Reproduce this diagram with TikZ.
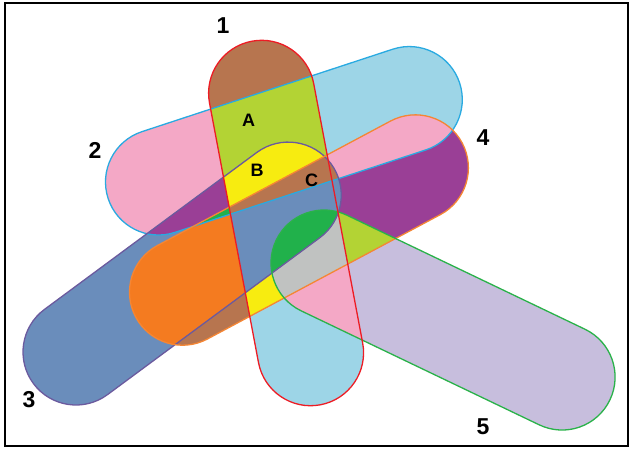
\documentclass[tikz,border=0pt]{standalone}
\usepackage{fontspec}
\setmainfont{Liberation Sans}
\usepackage{tikz}
\definecolor{VBrown}{HTML}{B7754F}
\definecolor{VLime}{HTML}{B3D334}
\definecolor{VSky}{HTML}{9DD5E7}
\definecolor{VPink}{HTML}{F4A8C6}
\definecolor{VYellow}{HTML}{F7EC10}
\definecolor{VPurple}{HTML}{9A3F96}
\definecolor{VSteel}{HTML}{6A8DBB}
\definecolor{VOrange}{HTML}{F47B20}
\definecolor{VGreen}{HTML}{21B14B}
\definecolor{VGrey}{HTML}{C0C2C1}
\definecolor{VLavender}{HTML}{C7BEDD}
\definecolor{ERed}{HTML}{ED1C24}
\definecolor{ECyan}{HTML}{29AAE1}
\definecolor{EPurple}{HTML}{6B5A9E}
\definecolor{EOrange}{HTML}{F58634}
\definecolor{EGreen}{HTML}{2AB24A}
\newcommand{\stadpath}{(0,-53) -- (264,-53) arc[start angle=-90,end angle=90,radius=53] -- (0,53) arc[start angle=90,end angle=270,radius=53] -- cycle}
\newcommand{\lefthalf}{(-20,-20) -- (240.2,-20) -- (332.7,470) -- (-20,470) -- cycle}
\newcommand{\righthalf}{(240.2,-20) -- (660,-20) -- (660,470) -- (332.7,470) -- cycle}
\newcommand{\within}[1]{\clip[#1] \stadpath;}
\newcommand{\regionfill}[2]{\begin{scope}#1\fill[#2] (-20,-20) rectangle (660,470);\end{scope}}
\begin{document}
\begin{tikzpicture}[
        x=1pt,y=-1pt,
        sOne/.style={shift={(261.6,93.3)},rotate=-79.31},
        sTwo/.style={shift={(158.5,182)},rotate=18.2},
        sThree/.style={shift={(76,352)},rotate=36.47},
        sFour/.style={shift={(182.5,292.2)},rotate=28.1},
        sFive/.style={shift={(324,263)},rotate=-25.59},
        edge/.style={line width=1.3pt},
        lbl/.style={font=\fontsize{23}{23}\selectfont\bfseries},
        tag/.style={font=\fontsize{18}{18}\selectfont\bfseries}
      ]
      \useasboundingbox (0,0) rectangle (631,448);
      \regionfill{\within{sOne}\clip (-20,-20) rectangle (660,200);}{VBrown}
      \regionfill{\within{sOne}\clip (-20,200) rectangle (660,470);}{VSky}
      \regionfill{\within{sTwo}\clip \lefthalf;}{VPink}
      \regionfill{\within{sTwo}\clip \righthalf;}{VSky}
      \regionfill{\within{sThree}}{VSteel}
      \regionfill{\within{sFour}\clip \lefthalf;}{VBrown}
      \regionfill{\within{sFour}\clip \righthalf;}{VPurple}
      \regionfill{\within{sFive}}{VLavender}
      \regionfill{\within{sOne}\within{sTwo}}{VLime}
      \regionfill{\within{sTwo}\within{sThree}}{VPurple}
      \regionfill{\within{sThree}\within{sFour}\clip \lefthalf;}{VOrange}
      \regionfill{\within{sThree}\within{sFour}\clip \righthalf;}{VSteel}
      \regionfill{\within{sTwo}\within{sFour}}{VPink}
      \regionfill{\within{sFour}\within{sFive}}{VLime}
      \regionfill{\within{sOne}\within{sFive}}{VPink}
      \regionfill{\within{sOne}\within{sFour}\clip (-20,250) rectangle (660,470);}{VYellow}
      \regionfill{\within{sOne}\within{sFour}\clip (-20,-20) rectangle (660,250);}{VSteel}
      \regionfill{\within{sOne}\within{sThree}}{VSteel}
      \regionfill{\within{sOne}\within{sTwo}\within{sThree}}{VYellow}
      \regionfill{\within{sTwo}\within{sThree}\within{sFour}\clip \lefthalf;}{VGreen}
      \regionfill{\within{sTwo}\within{sThree}\within{sFour}\clip \righthalf;}{VBrown}
      \regionfill{\within{sOne}\within{sThree}\within{sFour}}{VSteel}
      \regionfill{\within{sOne}\within{sFour}\within{sFive}}{VGrey}
      \regionfill{\within{sOne}\within{sTwo}\within{sFour}}{VLime}
      \regionfill{\within{sOne}\within{sTwo}\within{sThree}\within{sFour}}{VBrown}
      \regionfill{\within{sOne}\within{sThree}\within{sFour}\within{sFive}}{VGreen}

      \draw[edge,draw=ECyan,sTwo] \stadpath;
      \draw[edge,draw=EPurple,sThree] \stadpath;
      \draw[edge,draw=EOrange,sFour] \stadpath;
      \draw[edge,draw=EGreen,sFive] \stadpath;
      \draw[edge,draw=ERed,sOne] \stadpath;

      \node[lbl] (one) at (223,26) {1};
      \node[lbl] (two) at (95,150) {2};
      \node[lbl] (three) at (29,400) {3};
      \node[lbl] (four) at (483,138) {4};
      \node[lbl] (five) at (483,427) {5};
      \node[tag] (ra) at (248.5,120) {A};
      \node[tag] (rb) at (257,170.5) {B};
      \node[tag] (rc) at (311.5,180) {C};

      \draw[line width=2.2pt] (5,3) rectangle (628,446);
    \end{tikzpicture}
\end{document}
